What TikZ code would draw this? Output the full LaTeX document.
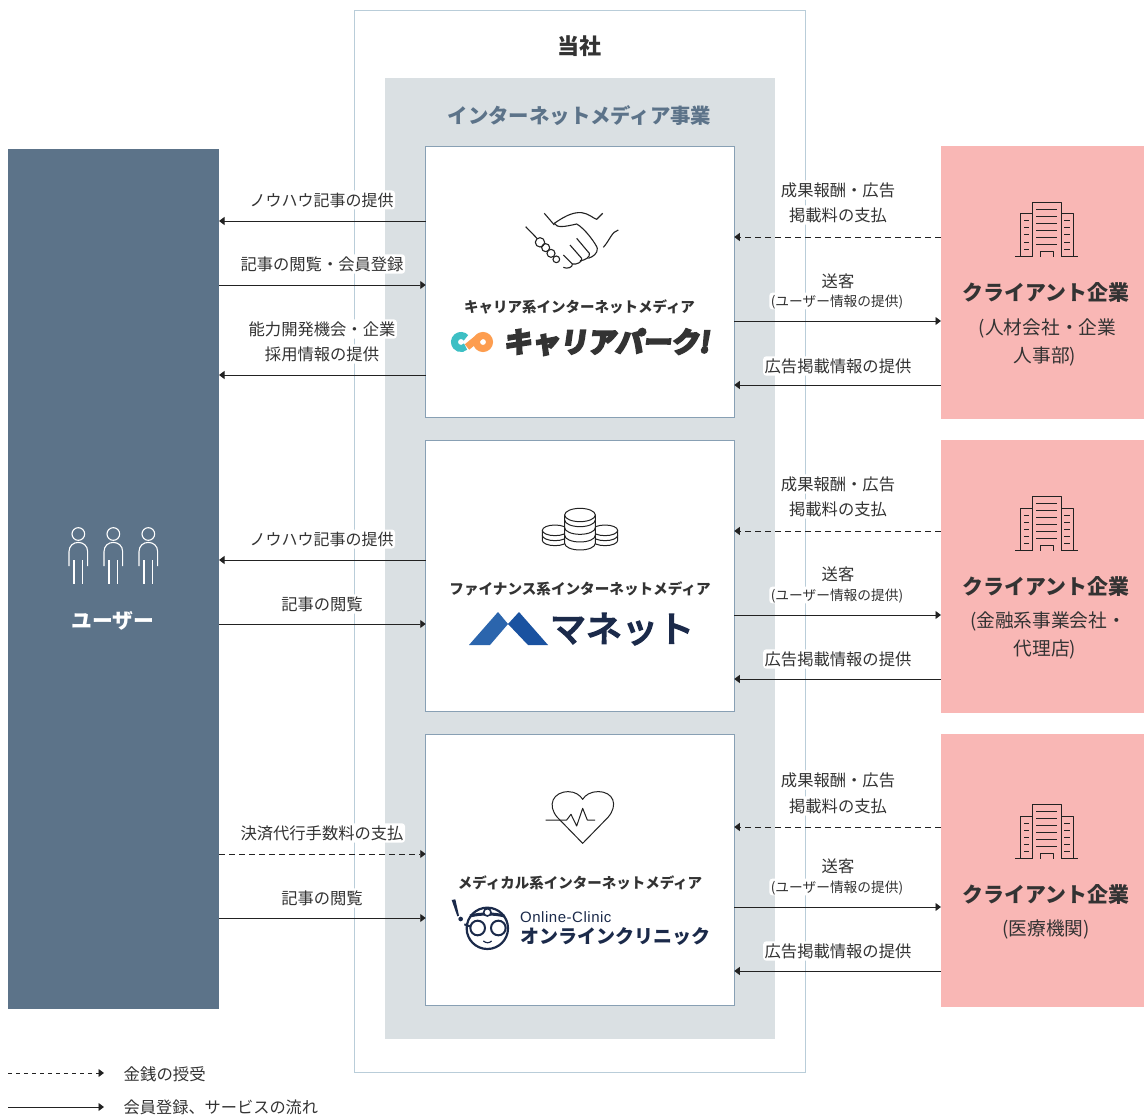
\documentclass[tikz,border=0pt]{standalone}
\usepackage{fontspec}
\setmainfont{Noto Sans CJK JP}
\newfontfamily\logofont[FakeSlant=0.14,FakeBold=8]{Noto Sans CJK JP Bold}
\newfontfamily\manetfont[FakeBold=5]{Noto Sans CJK JP}
\newfontfamily\latinfont[LetterSpace=3.5]{Liberation Sans}
\usetikzlibrary{arrows.meta}

\definecolor{usersblue}{HTML}{5C7389}
\definecolor{mediagrey}{HTML}{DAE0E3}
\definecolor{clientpink}{HTML}{F9B7B5}
\definecolor{outerline}{HTML}{B9CDD9}
\definecolor{boxline}{HTML}{88A0B4}
\definecolor{inktext}{HTML}{333333}
\definecolor{lineink}{HTML}{222222}
\definecolor{navy}{HTML}{1B2A4A}
\definecolor{markteal}{HTML}{3DBFC4}
\definecolor{markorange}{HTML}{FD9D4F}
\definecolor{peakleft}{HTML}{2B65AD}
\definecolor{peakright}{HTML}{1A52A0}

\tikzset{
    jptext/.style={font=\fontsize{#1}{#1}\selectfont, text=inktext, text height=0.90*#1, text depth=0.10*#1, inner sep=1.5pt},
    jpbold/.style={jptext=#1, font=\fontsize{#1}{#1}\selectfont\bfseries},
    flowlabel/.style={jptext=16.3, fill=white, rounded corners=3pt},
    flowsmall/.style={jptext=13.7, fill=white, rounded corners=3pt},
    flowline/.style={draw=lineink, line width=0.9pt, -{Triangle[length=5.5pt,width=8pt]}},
    moneyline/.style={flowline, dash pattern=on 6pt off 4pt},
    mediabox/.style={draw=boxline, fill=white, line width=1pt, minimum width=308.5pt, minimum height=271pt, outer sep=0pt},
    clientbox/.style={fill=clientpink, minimum width=203pt, minimum height=273pt, outer sep=0pt},
    icon/.style={draw=lineink, line width=1pt, line join=round},
    pics/building/.style={code={
        \begin{scope}[scale=1/3, icon]
            \draw (97,200) -- (97,37) -- (184,37) -- (184,200);
            \draw (97,72) -- (60,72) -- (60,200);
            \draw (184,72) -- (219,72) -- (219,200);
            \draw (46,200) -- (97,200) (184,200) -- (234,200);
            \draw (122,200) -- (122,185) -- (160,185) -- (160,200);
            \draw (108,58) -- (172,58) (108,79) -- (172,79) (108,100) -- (172,100)
                  (108,121) -- (172,121) (108,142) -- (172,142) (108,164) -- (172,164);
            \draw (72,93) -- (88,93) (72,114) -- (88,114) (72,135) -- (88,135)
                  (72,157) -- (88,157) (72,178) -- (88,178);
            \draw (193,93) -- (209,93) (193,114) -- (209,114) (193,135) -- (209,135)
                  (193,157) -- (209,157) (193,178) -- (209,178);
        \end{scope}
    }},
    pics/person/.style={code={
        \begin{scope}[scale=1/3, draw=white, line width=1.1pt]
            \draw (85,72) circle[radius=19];
            \draw (57,168) -- (57,125) .. controls (57,88) and (113,88) .. (113,125) -- (113,168);
            \draw (72,150) -- (72,222);
            \draw (98,150) -- (98,222);
        \end{scope}
    }},
    pics/handshake/.style={code={
        \begin{scope}[scale=1/3, icon, line width=1.1pt]
            \draw (302,110) -- (337,146);
            \draw (358,70) -- (388,105);
            \draw (345,157) circle[radius=14];
            \draw (362,173) circle[radius=12];
            \draw (378,190) circle[radius=12];
            \draw (394,208) circle[radius=10];
            \draw (388,100) .. controls (410,85) and (440,65) .. (470,68) .. controls (490,70) and (505,85) .. (515,88) -- (533,70);
            \draw (388,100) .. controls (395,115) and (420,110) .. (455,102) .. controls (480,115) and (515,165) .. (517,175) .. controls (518,190) and (505,200) .. (490,205);
            \draw (455,145) -- (493,190) .. controls (497,200) and (480,212) .. (465,212);
            \draw (435,165) -- (470,205) .. controls (474,215) and (455,225) .. (442,222);
            \draw (415,195) -- (442,222) .. controls (445,232) and (425,238) .. (415,232);
            \draw (580,120) .. controls (560,125) and (555,150) .. (535,172);
        \end{scope}
    }},
    pics/coins/.style={code={
        \begin{scope}[scale=1/3, icon, fill=white]
            % side stacks
            \draw[fill=white] (352,91) -- (352,121) arc[start angle=180, end angle=0, x radius=38, y radius=16] -- (428,91);
            \draw (352,106) arc[start angle=180, end angle=0, x radius=38, y radius=16];
            \draw (390,91) ellipse[x radius=38, y radius=16];
            \draw[fill=white] (502,91) -- (502,121) arc[start angle=180, end angle=0, x radius=38, y radius=16] -- (578,91);
            \draw (502,106) arc[start angle=180, end angle=0, x radius=38, y radius=16];
            \draw (540,91) ellipse[x radius=38, y radius=16];
            % middle stack
            \draw[fill=white] (419,45) -- (419,130) arc[start angle=180, end angle=0, x radius=46, y radius=20] -- (511,45);
            \draw[fill=white] (465,45) ellipse[x radius=46, y radius=20];
            \draw (419,60) arc[start angle=180, end angle=0, x radius=46, y radius=20];
            \draw (419,83) arc[start angle=180, end angle=0, x radius=46, y radius=20];
            \draw (419,106) arc[start angle=180, end angle=0, x radius=46, y radius=20];
        \end{scope}
    }},
    pics/heartbeat/.style={code={
        \begin{scope}[scale=1/3, icon]
            \draw (473,190) -- (397,112) .. controls (365,75) and (385,35) .. (430,35) .. controls (450,35) and (465,45) .. (473,58)
                  .. controls (481,45) and (496,35) .. (520,35) .. controls (565,35) and (581,75) .. (549,112) -- cycle;
            \draw (362,120) -- (425,120) -- (438,103) -- (455,138) -- (473,85) -- (487,120) -- (510,120);
        \end{scope}
    }},
    pics/careermark/.style={code={
        \draw[line width=7pt, color=markteal] (4.98,-4.18) arc[start angle=-40, end angle=-315, radius=6.5];
        \draw[line width=7pt, color=markorange] (22,0) circle[radius=6.5];
        \draw[line width=7pt, color=markorange] (19.5,-6) -- (6,5);
    }},
    pics/clinicmark/.style={code={
        \begin{scope}[scale=1/3, draw=navy]
            \draw[line width=2.2pt] (187,445) circle[radius=62];
            \draw[line width=3pt] (135,408) .. controls (165,400) and (210,400) .. (238,408);
            \draw[line width=1.6pt, fill=white] (187,397) circle[radius=11];
            \draw[line width=2pt] (118,433) -- (138,440);
            \draw[line width=2pt, fill=white] (158,444) circle[radius=22];
            \draw[line width=2pt, fill=white] (220,444) circle[radius=22];
            \draw[line width=1.2pt] (175,483) .. controls (184,490) and (192,490) .. (200,483);
            \fill[navy] (80,360) -- (91,358) -- (102,407) -- (97,409) -- cycle;
            \fill[navy] (107,417) circle[radius=7];
        \end{scope}
    }}
}

\begin{document}
\begin{tikzpicture}[x=1pt, y=-1pt]
    \useasboundingbox (0,0) rectangle (1144,1115);

    % company frame and media business
    \node (outer) [draw=outerline, line width=1pt, minimum width=451pt, minimum height=1061pt] at (579.5,541.5) {};
    \node (media) [fill=mediagrey, minimum width=390pt, minimum height=961pt] at (580,558.5) {};
    \node (company) [jpbold=22] at (579,46) {当社};
    \node (mediatitle) [jpbold=20.4, text=usersblue] at (579.5,115.5) {インターネットメディア事業};

    % three media
    \node (career) [mediabox] at (580,282.5) {};
    \node (money) [mediabox] at (580,576) {};
    \node (clinic) [mediabox] at (580,870) {};

    % users and clients
    \node (users) [fill=usersblue, minimum width=211pt, minimum height=860pt, outer sep=0pt] at (113.5,579) {};
    \node (clientA) [clientbox] at (1042.5,282.5) {};
    \node (clientB) [clientbox] at (1042.5,576.5) {};
    \node (clientC) [clientbox] at (1042.5,870.5) {};

    \pic at (50,510) {person};
    \pic at (85,510) {person};
    \pic at (120,510) {person};
    \node (userstitle) [jpbold=20.8, text=white] at (113,620) {ユーザー};

    % client texts
    \pic at (1000,190) {building};
    \node (clientAname) [jpbold=20.9] at (1046,292) {クライアント企業};
    \node (clientAsub) [jptext=18.7, below of=clientAname, node distance=35pt, xshift=1.5pt] {(人材会社・企業};
    \node (clientAsubb) [jptext=18.7, below of=clientAsub, node distance=28pt, xshift=-2.5pt] {人事部)};

    \pic at (1000,484) {building};
    \node (clientBname) [jpbold=20.9] at (1046,586) {クライアント企業};
    \node (clientBsub) [jptext=18.7, below of=clientBname, node distance=34pt, xshift=2pt] {(金融系事業会社・};
    \node (clientBsubb) [jptext=18.7, below of=clientBsub, node distance=28pt, xshift=-3pt] {代理店)};

    \pic at (1000,792) {building};
    \node (clientCname) [jpbold=20.9] at (1046,894) {クライアント企業};
    \node (clientCsub) [jptext=18.7, below of=clientCname, node distance=34pt] {(医療機関)};

    % media contents
    \pic at (425,190) {handshake};
    \node (careertitle) [jpbold=14.5] at (579.5,307) {キャリア系インターネットメディア};
    \pic at (461,342) {careermark};
    \node (careerlogo) [font=\fontsize{28}{28}\selectfont\logofont, text=inktext, inner sep=0pt] at (606.5,342) {キャリアパーク!};

    \pic at (425,500) {coins};
    \node (moneytitle) [jpbold=14.6] at (580,589) {ファイナンス系インターネットメディア};
    \fill[color=peakleft] (469,645) -- (498,612) -- (508,624) -- (490,645) -- cycle;
    \fill[color=peakright] (508,624) -- (519,612) -- (548,645) -- (528,645) -- cycle;
    \node (moneylogo) [font=\fontsize{36}{36}\selectfont\manetfont, text=navy, inner sep=0pt] at (622,629) {マネット};

    \pic at (425,780) {heartbeat};
    \node (clinictitle) [jpbold=14.5] at (580,883) {メディカル系インターネットメディア};
    \pic at (425,780) {clinicmark};
    \node (cliniclatin) [font=\fontsize{15}{15}\selectfont\latinfont, text=navy, anchor=west, inner sep=0pt] at (520,917) {Online-Clinic};
    \node (cliniclogo) [font=\fontsize{19}{19}\selectfont\bfseries, text=navy, anchor=west, inner sep=0pt] at (520,937) {オンラインクリニック};

    % connectors between users and media
    \draw[flowline] (career.west |- 0,221) -- (users.east |- 0,221);
    \draw[flowline] (users.east |- 0,285) -- (career.west |- 0,285);
    \draw[flowline] (career.west |- 0,375) -- (users.east |- 0,375);
    \draw[flowline] (money.west |- 0,560) -- (users.east |- 0,560);
    \draw[flowline] (users.east |- 0,624) -- (money.west |- 0,624);
    \draw[moneyline] (users.east |- 0,854) -- (clinic.west |- 0,854);
    \draw[flowline] (users.east |- 0,918) -- (clinic.west |- 0,918);

    % connectors between clients and media
    \draw[moneyline] (clientA.west |- 0,237) -- (career.east |- 0,237);
    \draw[flowline] (career.east |- 0,321) -- (clientA.west |- 0,321);
    \draw[flowline] (clientA.west |- 0,385) -- (career.east |- 0,385);
    \draw[moneyline] (clientB.west |- 0,531) -- (money.east |- 0,531);
    \draw[flowline] (money.east |- 0,615) -- (clientB.west |- 0,615);
    \draw[flowline] (clientB.west |- 0,679) -- (money.east |- 0,679);
    \draw[moneyline] (clientC.west |- 0,827) -- (clinic.east |- 0,827);
    \draw[flowline] (clinic.east |- 0,907) -- (clientC.west |- 0,907);
    \draw[flowline] (clientC.west |- 0,971) -- (clinic.east |- 0,971);

    % labels on the user side
    \node (knowhowA) [flowlabel, jptext=16] at (321.5,200) {ノウハウ記事の提供};
    \node (browseA) [flowlabel] at (322,264) {記事の閲覧・会員登録};
    \node (careerinfo) [flowlabel] at (322,329) {能力開発機会・企業};
    \node (careerinfob) [flowlabel, below of=careerinfo, node distance=25pt] {採用情報の提供};
    \node (knowhowB) [flowlabel, jptext=16] at (321.5,539) {ノウハウ記事の提供};
    \node (browseB) [flowlabel] at (322,604) {記事の閲覧};
    \node (settle) [flowlabel] at (322,833) {決済代行手数料の支払};
    \node (browseC) [flowlabel] at (322,898) {記事の閲覧};

    % labels on the client side
    \node (rewardA) [flowlabel] at (838,190) {成果報酬・広告};
    \node (rewardAb) [flowlabel, below of=rewardA, node distance=25pt] {掲載料の支払};
    \node (sendA) [flowlabel] at (838,281) {送客};
    \node (sendAb) [flowsmall] at (837,301) {(ユーザー情報の提供)};
    \node (adinfoA) [flowlabel] at (838,366) {広告掲載情報の提供};
    \node (rewardB) [flowlabel] at (838,484) {成果報酬・広告};
    \node (rewardBb) [flowlabel, below of=rewardB, node distance=25pt] {掲載料の支払};
    \node (sendB) [flowlabel] at (838,574) {送客};
    \node (sendBb) [flowsmall] at (837,595) {(ユーザー情報の提供)};
    \node (adinfoB) [flowlabel] at (838,659) {広告掲載情報の提供};
    \node (rewardC) [flowlabel] at (838,780) {成果報酬・広告};
    \node (rewardCb) [flowlabel, below of=rewardC, node distance=26pt] {掲載料の支払};
    \node (sendC) [flowlabel] at (838,866) {送客};
    \node (sendCb) [flowsmall] at (837,887) {(ユーザー情報の提供)};
    \node (adinfoC) [flowlabel] at (838,951) {広告掲載情報の提供};

    % legend
    \coordinate (legendmoneyA) at (8,1073);
    \coordinate (legendmoneyB) at (104,1073);
    \coordinate (legendflowA) at (8,1107);
    \coordinate (legendflowB) at (104,1107);
    \draw[moneyline, dash pattern=on 4pt off 4pt] (legendmoneyA) -- (legendmoneyB);
    \draw[flowline] (legendflowA) -- (legendflowB);
    \node (legendmoney) [jptext=16.4, anchor=west] at (122,1073.5) {金銭の授受};
    \node (legendflow) [jptext=16.2, anchor=west] at (122,1107.5) {会員登録、サービスの流れ};
\end{tikzpicture}
\end{document}
